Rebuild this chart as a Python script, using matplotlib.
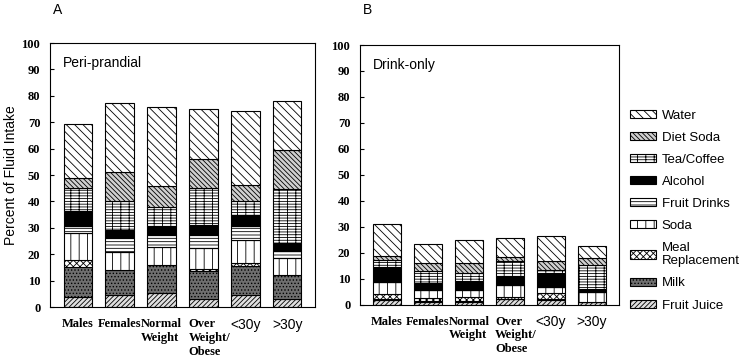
import matplotlib
matplotlib.use("Agg")
import matplotlib.pyplot as plt
import numpy as np

plt.rcParams['hatch.linewidth'] = 0.6

categories = ["Males", "Females", "Normal\nWeight", "Over\nWeight/\nObese", "<30y", ">30y"]
beverages = ["Fruit Juice", "Milk", "Meal\nReplacement", "Soda", "Fruit Drinks",
             "Alcohol", "Tea/Coffee", "Diet Soda", "Water"]

# Panel A: Peri-prandial (percent of fluid intake)
fruit_juice_a = [3.8, 4.4, 5.3, 3.1, 4.5, 3.2]
milk_a        = [11.5, 9.8, 10.6, 10.5, 11.1, 8.8]
meal_a        = [2.6, 0.0, 0.0, 0.8, 1.0, 0.0]
soda_a        = [10.3, 6.8, 6.8, 7.9, 8.6, 6.5]
fruit_drink_a = [2.3, 5.0, 4.5, 4.9, 5.3, 2.9]
alcohol_a     = [6.0, 3.2, 3.5, 3.8, 4.4, 3.0]
tea_a         = [8.5, 11.0, 7.1, 14.0, 5.3, 20.4]
diet_a        = [3.7, 10.8, 8.0, 10.9, 6.0, 14.6]
water_a       = [20.8, 26.3, 30.0, 19.2, 28.0, 18.6]

# Panel B: Drink-only
fruit_juice_b = [1.8, 0.8, 0.8, 2.2, 1.8, 0.8]
milk_b        = [0.5, 0.5, 0.5, 0.0, 0.5, 0.0]
meal_b        = [1.7, 1.3, 1.6, 0.7, 2.2, 0.0]
soda_b        = [4.7, 2.9, 2.6, 4.6, 2.3, 4.1]
fruit_drink_b = [0.0, 0.0, 0.0, 0.0, 0.0, 0.0]
alcohol_b     = [5.8, 2.8, 3.5, 3.4, 5.2, 1.0]
tea_b         = [2.6, 4.6, 3.0, 5.8, 1.2, 9.3]
diet_b        = [1.7, 3.2, 3.8, 1.7, 3.5, 2.6]
water_b       = [12.1, 7.1, 9.0, 7.3, 9.7, 4.7]

series_a = [fruit_juice_a, milk_a, meal_a, soda_a, fruit_drink_a, alcohol_a, tea_a, diet_a, water_a]
series_b = [fruit_juice_b, milk_b, meal_b, soda_b, fruit_drink_b, alcohol_b, tea_b, diet_b, water_b]

styles = [
    dict(facecolor='#e0e0e0', hatch='///////'),         # Fruit Juice
    dict(facecolor='#6f6f6f', hatch='.....'),           # Milk
    dict(facecolor='white', hatch='xxxxx'),             # Meal Replacement
    dict(facecolor='white', hatch='||'),                # Soda
    dict(facecolor='white', hatch='-----'),             # Fruit Drinks
    dict(facecolor='black', hatch=None),                # Alcohol
    dict(facecolor='white', hatch='------||'),          # Tea/Coffee
    dict(facecolor='#d0d0d0', hatch='\\\\\\\\\\\\\\'),  # Diet Soda
    dict(facecolor='white', hatch='\\\\\\\\'),          # Water
]

W, H = 749, 359
fig = plt.figure(figsize=(W / 100, H / 100), dpi=100)
axA = fig.add_axes([50 / W, 1 - 307 / H, 265 / W, 264 / H])
axB = fig.add_axes([360 / W, 1 - 304.5 / H, 259 / W, 259.5 / H])

x = np.arange(len(categories))
serif = dict(family='Liberation Serif', weight='bold')
label_shift = [0, 0, 0, 0.14, 0, 0]

handles = []
for ax, series, title in [(axA, series_a, "Peri-prandial"), (axB, series_b, "Drink-only")]:
    bottom = np.zeros(len(categories))
    hs = []
    for vals, st, lab in zip(series, styles, beverages):
        b = ax.bar(x, vals, width=0.667, bottom=bottom, edgecolor='black',
                   linewidth=0.8, label=lab, **st)
        hs.append(b)
        bottom = bottom + np.array(vals)
    handles = hs
    ax.set_xlim(-0.655, 5.655)
    ax.set_ylim(0, 100)
    ax.set_yticks(np.arange(0, 101, 10))
    ax.set_yticklabels([str(v) for v in range(0, 101, 10)], fontsize=9, **serif)
    ax.set_xticks(x)
    ax.set_xticklabels([])
    for xi, c, sh in zip(x, categories, label_shift):
        if c.startswith('<') or c.startswith('>'):
            ax.text(xi, -4.0, c, ha='center', va='top', fontsize=10,
                    family='Liberation Sans', transform=ax.transData)
        else:
            ax.text(xi + sh, -4.3, c, ha='center', va='top', fontsize=9,
                    multialignment='left', linespacing=1.2,
                    transform=ax.transData, **serif)
    ax.tick_params(axis='y', direction='in', length=3, width=0.8, pad=7)
    ax.tick_params(axis='x', length=0)
    for s in ax.spines.values():
        s.set_linewidth(0.8)
    ax.text(0.05, 0.95, title, transform=ax.transAxes, ha='left', va='top',
            fontsize=10, family='Liberation Sans')

axA.set_ylabel("Percent of Fluid Intake", fontsize=10, family='Liberation Sans')
axA.yaxis.set_label_coords(-0.12, 0.5)

fig.text(53 / W, 1 - 10 / H, "A", fontsize=10, family='Liberation Sans', va='center')
fig.text(363 / W, 1 - 10 / H, "B", fontsize=10, family='Liberation Sans', va='center')

leg = fig.legend(handles[::-1], beverages[::-1], loc='upper left',
                 bbox_to_anchor=(630 / W, 1 - 109.5 / H), frameon=False,
                 prop=dict(family='Liberation Sans', size=9.5),
                 handlelength=2.0, handleheight=0.6, handletextpad=0.4,
                 labelspacing=0.76, borderpad=0, borderaxespad=0)

fig.savefig("out.png", dpi=100)
